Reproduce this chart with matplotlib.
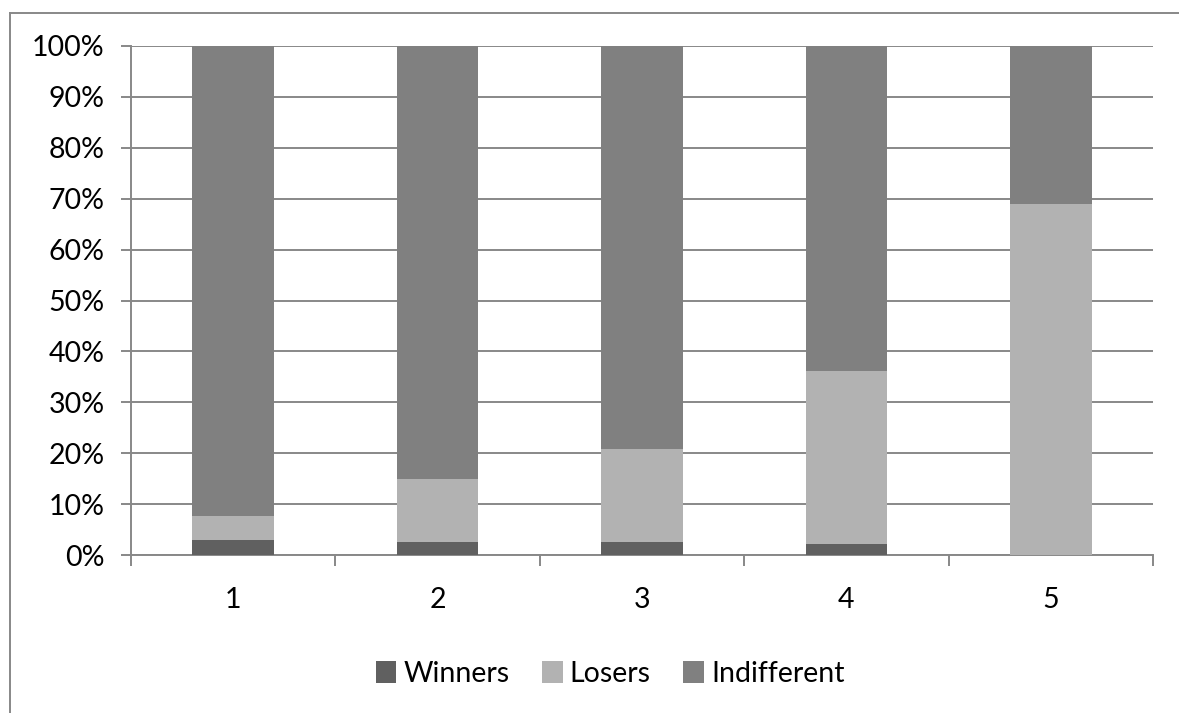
import matplotlib
matplotlib.use("Agg")
import matplotlib.pyplot as plt
from matplotlib.lines import Line2D
import numpy as np

categories = ["1", "2", "3", "4", "5"]
winners = [3.0, 2.5, 2.5, 2.1, 0.0]
losers = [4.6, 12.5, 18.3, 34.0, 69.0]
indifferent = [100 - w - l for w, l in zip(winners, losers)]
series_names = ["Winners", "Losers", "Indifferent"]
colors = ["#606060", "#b2b2b2", "#808080"]

plt.rcParams['font.family'] = ['Lato', 'DejaVu Sans']

fig = plt.figure(figsize=(11.79, 7.13), dpi=100)
ax = fig.add_axes([131/1179, 1-555/713, (1153-131)/1179, (555-46)/713])

x = np.arange(len(categories))
w = 0.40
b1 = ax.bar(x, winners, w, color=colors[0], label=series_names[0], zorder=3)
b2 = ax.bar(x, losers, w, bottom=winners, color=colors[1], label=series_names[1], zorder=3)
bot = [a + b for a, b in zip(winners, losers)]
b3 = ax.bar(x, indifferent, w, bottom=bot, color=colors[2], label=series_names[2], zorder=3)

ax.set_xlim(-0.5, len(categories) - 0.5)
ax.set_ylim(0, 100)
ax.set_yticks(np.arange(0, 101, 10))
ax.set_yticklabels([f"{v}%" for v in range(0, 101, 10)], fontsize=20.5)
ax.yaxis.grid(True, color="#888888", linewidth=1.4, zorder=0)
ax.set_xticks(x)
ax.set_xticklabels(categories, fontsize=20.5)
ax.set_xticks(np.arange(-0.5, len(categories)), minor=True)
ax.tick_params(axis='x', which='major', length=0, pad=23)
ax.tick_params(axis='x', which='minor', length=8, width=1.4, color="#888888")
ax.tick_params(axis='y', length=7, width=1.4, color="#888888", pad=12)
for s in ["top", "right"]:
    ax.spines[s].set_visible(False)
for s in ["left", "bottom"]:
    ax.spines[s].set_color("#888888")
    ax.spines[s].set_linewidth(1.4)

# outer chart frame
fig.add_artist(Line2D([10/1179, 10/1179], [0, 1-13/713], color="#888888", lw=1.4, transform=fig.transFigure))
fig.add_artist(Line2D([10/1179, 1], [1-13/713, 1-13/713], color="#888888", lw=1.4, transform=fig.transFigure))

fig.legend(handles=[b1, b2, b3], labels=series_names, loc="center", bbox_to_anchor=(610/1179, 1-674/713),
           ncol=3, frameon=False, fontsize=20.5, handlelength=0.72, handleheight=0.8,
           handletextpad=0.25, columnspacing=1.15)

fig.savefig("out.png", dpi=100)
